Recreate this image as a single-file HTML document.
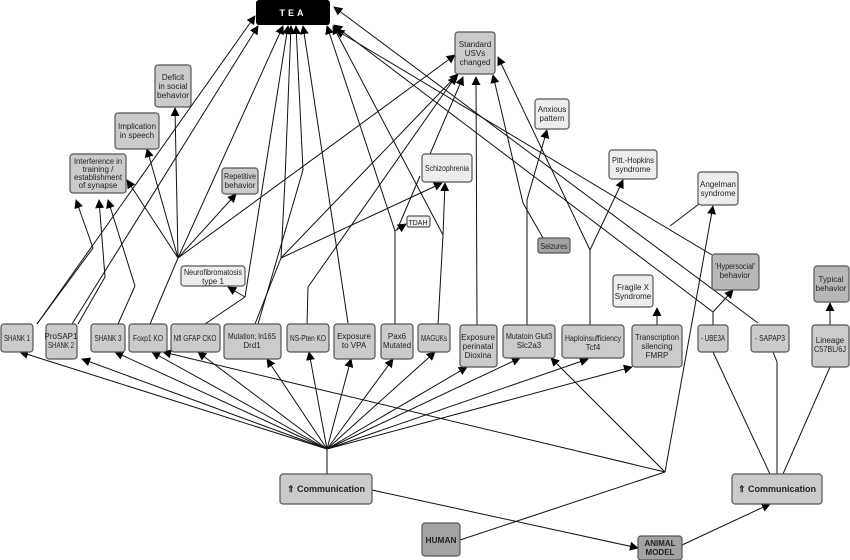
<!DOCTYPE html>
<html><head><meta charset="utf-8"><style>
body{margin:0;background:#fff;}
svg{display:block;font-family:"Liberation Sans",sans-serif;}
.b rect{stroke:#555;stroke-width:1.2;}
.g{fill:#cbcbcb}.l{fill:#ededed}.d{fill:#a3a3a3}.m{fill:#b8b8b8}
text{font-size:8px;fill:#222;text-anchor:middle;}
line,polyline{stroke:#111;stroke-width:1;fill:none;}
</style></head><body>
<svg width="850" height="560" viewBox="0 0 850 560" xmlns="http://www.w3.org/2000/svg">
<defs><marker id="a" viewBox="0 0 10 10" refX="9" refY="5" markerWidth="9" markerHeight="9" markerUnits="userSpaceOnUse" orient="auto"><path d="M0,0L10,5L0,10z" fill="#000"/></marker></defs>
<g marker-end="url(#a)">
<line x1="327" y1="449" x2="20" y2="352"/>
<line x1="327" y1="449" x2="82" y2="359"/>
<line x1="327" y1="449" x2="115" y2="352"/>
<line x1="327" y1="449" x2="152" y2="352"/>
<line x1="327" y1="449" x2="198" y2="352"/>
<line x1="327" y1="449" x2="267" y2="359"/>
<line x1="327" y1="449" x2="309" y2="352"/>
<line x1="327" y1="449" x2="351" y2="359"/>
<line x1="327" y1="449" x2="393" y2="359"/>
<line x1="327" y1="449" x2="435" y2="352"/>
<line x1="327" y1="449" x2="467" y2="367"/>
<line x1="327" y1="449" x2="520" y2="358"/>
<line x1="327" y1="449" x2="588" y2="359"/>
<line x1="327" y1="449" x2="632" y2="367"/>
<line x1="665" y1="472" x2="163" y2="352"/>
<line x1="665" y1="472" x2="551" y2="358"/>
<line x1="665" y1="472" x2="713" y2="206"/>
<line x1="372" y1="490" x2="638" y2="548"/>
<line x1="682" y1="545" x2="770" y2="504"/>
<line x1="37" y1="324" x2="255" y2="16"/>
<line x1="72" y1="324" x2="258" y2="26"/>
<line x1="178" y1="258" x2="283" y2="26"/>
<line x1="245" y1="297" x2="288" y2="26"/>
<line x1="285" y1="180" x2="291" y2="26"/>
<line x1="303" y1="170" x2="296" y2="26"/>
<line x1="348" y1="323" x2="303" y2="26"/>
<line x1="395" y1="231" x2="327" y2="26"/>
<line x1="443" y1="235" x2="333" y2="26"/>
<line x1="758" y1="323" x2="334" y2="7"/>
<line x1="713" y1="312" x2="334" y2="25"/>
<line x1="712" y1="255" x2="336" y2="30"/>
<line x1="93" y1="248" x2="76" y2="200"/>
<line x1="105" y1="277" x2="99" y2="200"/>
<line x1="135" y1="286" x2="108" y2="200"/>
<line x1="178" y1="258" x2="127" y2="180"/>
<line x1="178" y1="258" x2="147" y2="149"/>
<line x1="178" y1="258" x2="175" y2="108"/>
<line x1="178" y1="258" x2="236" y2="194"/>
<line x1="178" y1="258" x2="455" y2="55"/>
<line x1="245" y1="297" x2="228" y2="287"/>
<line x1="281" y1="258" x2="442" y2="183"/>
<line x1="281" y1="258" x2="458" y2="74"/>
<line x1="308" y1="287" x2="456" y2="76"/>
<line x1="395" y1="231" x2="406" y2="224"/>
<line x1="443" y1="235" x2="445" y2="183"/>
<line x1="430" y1="154" x2="463" y2="77"/>
<line x1="477" y1="325" x2="476" y2="77"/>
<line x1="527" y1="200" x2="547" y2="130"/>
<line x1="523" y1="203" x2="493" y2="75"/>
<line x1="590" y1="250" x2="623" y2="180"/>
<line x1="590" y1="250" x2="498" y2="57"/>
<line x1="657" y1="325" x2="657" y2="308"/>
<line x1="713" y1="312" x2="733" y2="290"/>
<line x1="830" y1="325" x2="830" y2="303"/>
</g>
<line x1="37" y1="324" x2="93" y2="248"/>
<line x1="78" y1="324" x2="105" y2="277"/>
<line x1="118" y1="324" x2="135" y2="286"/>
<line x1="150" y1="324" x2="178" y2="258"/>
<line x1="205" y1="324" x2="245" y2="297"/>
<line x1="255" y1="324" x2="281" y2="258"/>
<polyline points="281,258 285,180"/>
<polyline points="258,324 303,170"/>
<line x1="307" y1="325" x2="308" y2="287"/>
<line x1="395" y1="325" x2="395" y2="231"/>
<line x1="420" y1="176" x2="397" y2="230"/>
<line x1="438" y1="325" x2="443" y2="235"/>
<line x1="527" y1="325" x2="527" y2="200"/>
<line x1="543" y1="238" x2="523" y2="203"/>
<line x1="590" y1="325" x2="590" y2="250"/>
<line x1="713" y1="325" x2="713" y2="312"/>
<line x1="670" y1="226" x2="699" y2="204"/>
<line x1="327" y1="449" x2="327" y2="474"/>
<line x1="460" y1="540" x2="665" y2="472"/>
<line x1="713" y1="352" x2="770" y2="474"/>
<polyline points="773,352 777,362 777,474"/>
<line x1="830" y1="367" x2="783" y2="474"/>
<rect x="256" y="0" width="74" height="25" rx="3" fill="#000"/>
<text x="293" y="16" style="fill:#fff;font-weight:bold;font-size:9px;letter-spacing:3px">TEA</text>
<g class="b">
<rect class="g" x="455" y="32" width="40" height="42" rx="3"/><text x="475" y="47">Standard</text><text x="475" y="56">USVs</text><text x="475" y="65">changed</text>
<rect class="g" x="155" y="65" width="36" height="42" rx="3"/><text x="173" y="80">Deficit</text><text x="173" y="89">in social</text><text x="173" y="98" textLength="32" lengthAdjust="spacingAndGlyphs">behavior</text>
<rect class="g" x="115" y="113" width="44" height="36" rx="3"/><text x="137" y="129" textLength="38" lengthAdjust="spacingAndGlyphs">Implication</text><text x="137" y="138">in speech</text>
<rect class="g" x="70" y="154" width="56" height="39" rx="3"/><text x="98" y="164" textLength="48" lengthAdjust="spacingAndGlyphs">Interference in</text><text x="98" y="172">training /</text><text x="98" y="180" textLength="48" lengthAdjust="spacingAndGlyphs">establishment</text><text x="98" y="188">of synapse</text>
<rect class="g" x="222" y="168" width="36" height="26" rx="3"/><text x="240" y="179" textLength="32" lengthAdjust="spacingAndGlyphs">Repetitive</text><text x="240" y="188">behavior</text>
<rect class="l" x="422" y="154" width="50" height="28" rx="3"/><text x="447" y="171" textLength="44" lengthAdjust="spacingAndGlyphs">Schizophrenia</text>
<rect class="l" x="407" y="216" width="23" height="11" rx="2"/><text x="418" y="225" style="font-size:7px">TDAH</text>
<rect class="l" x="181" y="266" width="64" height="20" rx="3"/><text x="213" y="275" textLength="58" lengthAdjust="spacingAndGlyphs">Neurofibromatosis</text><text x="213" y="284">type 1</text>
<rect class="l" x="535" y="99" width="34" height="30" rx="3"/><text x="552" y="112">Anxious</text><text x="552" y="121">pattern</text>
<rect class="l" x="609" y="150" width="48" height="29" rx="3"/><text x="633" y="163" textLength="42" lengthAdjust="spacingAndGlyphs">Pitt.-Hopkins</text><text x="633" y="172">syndrome</text>
<rect class="l" x="698" y="172" width="40" height="33" rx="3"/><text x="718" y="187">Angelman</text><text x="718" y="196">syndrome</text>
<rect class="d" x="538" y="238" width="32" height="15" rx="2"/><text x="554" y="249" textLength="27" lengthAdjust="spacingAndGlyphs">Seizures</text>
<rect class="m" x="712" y="254" width="47" height="36" rx="3"/><text x="735" y="269" textLength="40" lengthAdjust="spacingAndGlyphs">'Hypersocial'</text><text x="735" y="278">behavior</text>
<rect class="l" x="613" y="275" width="40" height="32" rx="3"/><text x="633" y="290">Fragile X</text><text x="633" y="299">Syndrome</text>
<rect class="m" x="814" y="266" width="35" height="36" rx="3"/><text x="831" y="282">Typical</text><text x="831" y="291">behavior</text>
<rect class="g" x="1" y="324" width="32" height="28" rx="3"/><text x="17" y="341" textLength="26" lengthAdjust="spacingAndGlyphs">SHANK 1</text>
<rect class="g" x="46" y="324" width="31" height="35" rx="3"/><text x="61" y="339">ProSAP1</text><text x="61" y="348" textLength="26" lengthAdjust="spacingAndGlyphs">SHANK 2</text>
<rect class="g" x="91" y="324" width="34" height="28" rx="3"/><text x="108" y="341" textLength="27" lengthAdjust="spacingAndGlyphs">SHANK 3</text>
<rect class="g" x="129" y="324" width="38" height="28" rx="3"/><text x="148" y="341" textLength="30" lengthAdjust="spacingAndGlyphs">Foxp1 KO</text>
<rect class="g" x="171" y="324" width="49" height="28" rx="3"/><text x="195" y="341" textLength="43" lengthAdjust="spacingAndGlyphs">Nfl GFAP CKO</text>
<rect class="g" x="224" y="324" width="57" height="35" rx="3"/><text x="252" y="339" textLength="48" lengthAdjust="spacingAndGlyphs">Mutation; In16S</text><text x="252" y="348">Drd1</text>
<rect class="g" x="287" y="324" width="42" height="28" rx="3"/><text x="308" y="341" textLength="36" lengthAdjust="spacingAndGlyphs">NS-Pten KO</text>
<rect class="g" x="334" y="324" width="41" height="35" rx="3"/><text x="354" y="339">Exposure</text><text x="354" y="348">to VPA</text>
<rect class="g" x="381" y="324" width="32" height="35" rx="3"/><text x="397" y="339">Pax6</text><text x="397" y="348" textLength="28" lengthAdjust="spacingAndGlyphs">Mutated</text>
<rect class="g" x="418" y="324" width="32" height="28" rx="3"/><text x="434" y="341" textLength="26" lengthAdjust="spacingAndGlyphs">MAGUKs</text>
<rect class="g" x="460" y="325" width="37" height="42" rx="3"/><text x="478" y="340">Exposure</text><text x="478" y="349">perinatal</text><text x="478" y="358">Dioxina</text>
<rect class="g" x="503" y="325" width="52" height="33" rx="3"/><text x="529" y="339" textLength="46" lengthAdjust="spacingAndGlyphs">Mutatoin Glut3</text><text x="529" y="348">Slc2a3</text>
<rect class="g" x="562" y="325" width="62" height="33" rx="3"/><text x="593" y="341" textLength="56" lengthAdjust="spacingAndGlyphs">Haploinsufficiency</text><text x="593" y="350">Tcf4</text>
<rect class="g" x="632" y="325" width="50" height="42" rx="3"/><text x="657" y="340" textLength="44" lengthAdjust="spacingAndGlyphs">Transcription</text><text x="657" y="349">silencing</text><text x="657" y="358">FMRP</text>
<rect class="g" x="698" y="325" width="30" height="27" rx="3"/><text x="713" y="341" textLength="24" lengthAdjust="spacingAndGlyphs">- UBE3A</text>
<rect class="g" x="751" y="325" width="38" height="27" rx="3"/><text x="770" y="341" textLength="30" lengthAdjust="spacingAndGlyphs">- SAPAP3</text>
<rect class="g" x="812" y="325" width="37" height="42" rx="3"/><text x="830" y="343">Lineage</text><text x="830" y="352" textLength="32" lengthAdjust="spacingAndGlyphs">C57BL/6J</text>
<rect class="g" x="280" y="474" width="92" height="30" rx="3"/><text x="326" y="492" style="font-size:9px;font-weight:bold">⇑ Communication</text>
<rect class="g" x="732" y="474" width="90" height="30" rx="3"/><text x="777" y="492" style="font-size:9px;font-weight:bold">⇑ Communication</text>
<rect class="d" x="422" y="523" width="38" height="33" rx="3"/><text x="441" y="543" style="font-weight:bold" textLength="31" lengthAdjust="spacingAndGlyphs">HUMAN</text>
<rect class="d" x="638" y="536" width="44" height="24" rx="3"/><text x="660" y="546" style="font-weight:bold">ANIMAL</text><text x="660" y="555" style="font-weight:bold">MODEL</text>
</g>
</svg>
</body></html>
